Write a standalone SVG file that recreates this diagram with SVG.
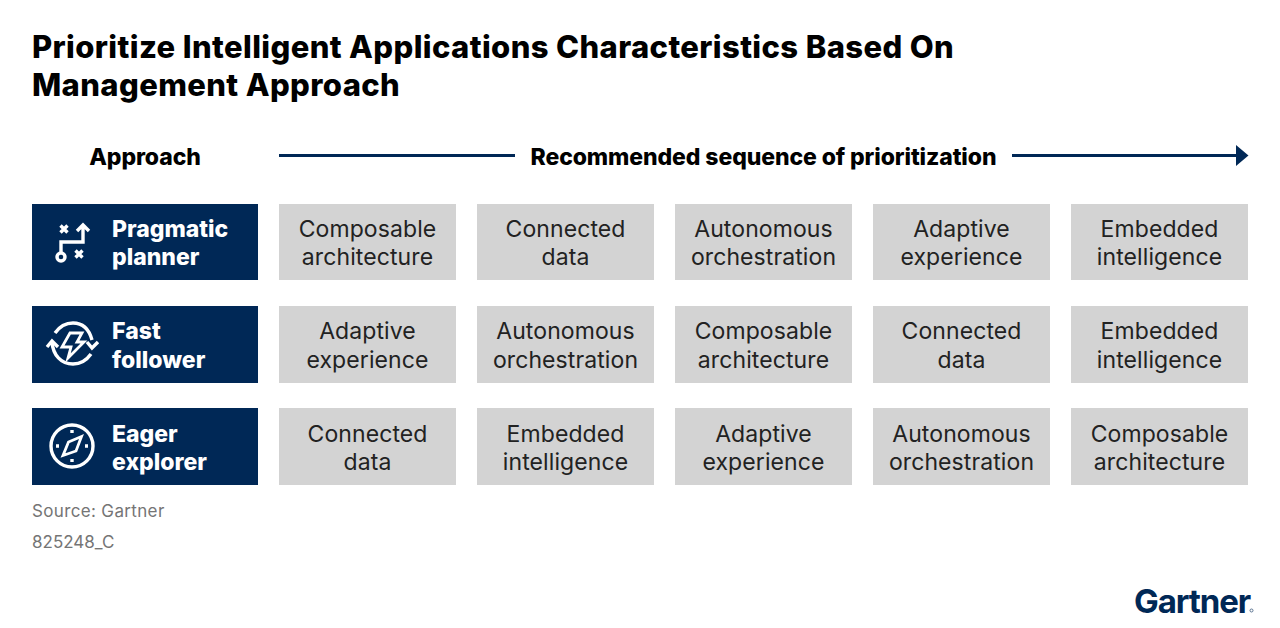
<svg xmlns="http://www.w3.org/2000/svg" width="1280" height="628" viewBox="0 0 1280 628">
<style>
text{font-family:Inter,"Liberation Sans",sans-serif}
.t{font-size:31px;font-weight:800;fill:#000;letter-spacing:.38px}
.h{font-size:23px;font-weight:800;fill:#000;letter-spacing:-.1px}
.n{font-size:23px;font-weight:800;fill:#fff}
.c{font-size:23px;fill:#222;text-anchor:middle;letter-spacing:.1px}
.s{font-size:17px;fill:#757575}
.cell{fill:#d3d3d3}
.head{fill:#002856}
.ic{fill:none;stroke:#fff;stroke-width:3.400}
.line{fill:none;stroke:#002856;stroke-width:3}
</style>
<text class="t" x="32" y="58">Prioritize Intelligent Applications Characteristics Based On</text>
<text class="t" x="32" y="96">Management Approach</text>
<text class="h" x="145" y="165" text-anchor="middle">Approach</text>
<text class="h" x="763.500" y="165" text-anchor="middle">Recommended sequence of prioritization</text>
<g id="connectors">
<path class="line" d="M279 155.500H515"/>
<path class="line" d="M1012 155.500H1238"/>
<path d="M1236 145L1248.500 155.500L1236 166Z" fill="#002856"/>
</g>
<g id="node-pragmatic">
<rect class="head" x="32" y="204" width="226" height="76"/>
<g class="ic">
<path d="M61 253V242H83V225M77 231L83 225L89 231"/>
<circle cx="61" cy="257" r="4"/>
<path d="M60.500 225.500L67.500 232.500M67.500 225.500L60.500 232.500M75.500 250.500L82.500 257.500M82.500 250.500L75.500 257.500"/>
</g>
<text class="n" x="112" y="237">Pragmatic</text>
<text class="n" x="112" y="265">planner</text>
</g>
<g id="node-fast">
<rect class="head" x="32" y="306" width="226" height="77"/>
<g class="ic">
<path d="M55 333C60 326 66 323 73 323C83 323 89 329 92 340"/>
<path d="M52 342C53 355 61 364 73 364C80 364 86 361 91 354"/>
<path d="M47 347L52 341L58 347M87 342L92 348L98 342"/>
<path stroke-width="2.800" d="M70 333H82L77 342H84L68 358L71 347H62Z"/>
</g>
<text class="n" x="112" y="339">Fast</text>
<text class="n" x="112" y="368">follower</text>
</g>
<g id="node-eager">
<rect class="head" x="32" y="408" width="226" height="77"/>
<g class="ic">
<circle cx="72" cy="446" r="21"/>
<path stroke-width="2.800" d="M81.500 436.500L76 451L63 455.500L68.500 442Z"/>
<path d="M72 430V433M72 459V462M56 446H59M85 446H88"/>
</g>
<text class="n" x="112" y="442">Eager</text>
<text class="n" x="112" y="470">explorer</text>
</g>
<g id="row-1">
<g id="r1c1"><rect class="cell" x="279" y="204" width="177" height="76"/><text class="c" x="367.500" y="237">Composable</text><text class="c" x="367.500" y="265">architecture</text></g>
<g id="r1c2"><rect class="cell" x="477" y="204" width="177" height="76"/><text class="c" x="565.500" y="237">Connected</text><text class="c" x="565.500" y="265">data</text></g>
<g id="r1c3"><rect class="cell" x="675" y="204" width="177" height="76"/><text class="c" x="763.500" y="237">Autonomous</text><text class="c" x="763.500" y="265">orchestration</text></g>
<g id="r1c4"><rect class="cell" x="873" y="204" width="177" height="76"/><text class="c" x="961.500" y="237">Adaptive</text><text class="c" x="961.500" y="265">experience</text></g>
<g id="r1c5"><rect class="cell" x="1071" y="204" width="177" height="76"/><text class="c" x="1159.500" y="237">Embedded</text><text class="c" x="1159.500" y="265">intelligence</text></g>
</g>
<g id="row-2">
<g id="r2c1"><rect class="cell" x="279" y="306" width="177" height="77"/><text class="c" x="367.500" y="339">Adaptive</text><text class="c" x="367.500" y="368">experience</text></g>
<g id="r2c2"><rect class="cell" x="477" y="306" width="177" height="77"/><text class="c" x="565.500" y="339">Autonomous</text><text class="c" x="565.500" y="368">orchestration</text></g>
<g id="r2c3"><rect class="cell" x="675" y="306" width="177" height="77"/><text class="c" x="763.500" y="339">Composable</text><text class="c" x="763.500" y="368">architecture</text></g>
<g id="r2c4"><rect class="cell" x="873" y="306" width="177" height="77"/><text class="c" x="961.500" y="339">Connected</text><text class="c" x="961.500" y="368">data</text></g>
<g id="r2c5"><rect class="cell" x="1071" y="306" width="177" height="77"/><text class="c" x="1159.500" y="339">Embedded</text><text class="c" x="1159.500" y="368">intelligence</text></g>
</g>
<g id="row-3">
<g id="r3c1"><rect class="cell" x="279" y="408" width="177" height="77"/><text class="c" x="367.500" y="442">Connected</text><text class="c" x="367.500" y="470">data</text></g>
<g id="r3c2"><rect class="cell" x="477" y="408" width="177" height="77"/><text class="c" x="565.500" y="442">Embedded</text><text class="c" x="565.500" y="470">intelligence</text></g>
<g id="r3c3"><rect class="cell" x="675" y="408" width="177" height="77"/><text class="c" x="763.500" y="442">Adaptive</text><text class="c" x="763.500" y="470">experience</text></g>
<g id="r3c4"><rect class="cell" x="873" y="408" width="177" height="77"/><text class="c" x="961.500" y="442">Autonomous</text><text class="c" x="961.500" y="470">orchestration</text></g>
<g id="r3c5"><rect class="cell" x="1071" y="408" width="177" height="77"/><text class="c" x="1159.500" y="442">Composable</text><text class="c" x="1159.500" y="470">architecture</text></g>
</g>
<text class="s" x="32" y="517" letter-spacing=".35">Source: Gartner</text>
<text class="s" x="32" y="548">825248_C</text>
<text x="1134" y="612.500" font-size="33" font-weight="700" fill="#002856" letter-spacing="-1.1">Gartner</text>
<circle cx="1251.500" cy="610.500" r="1.500" fill="none" stroke="#5a7391"/>
</svg>
